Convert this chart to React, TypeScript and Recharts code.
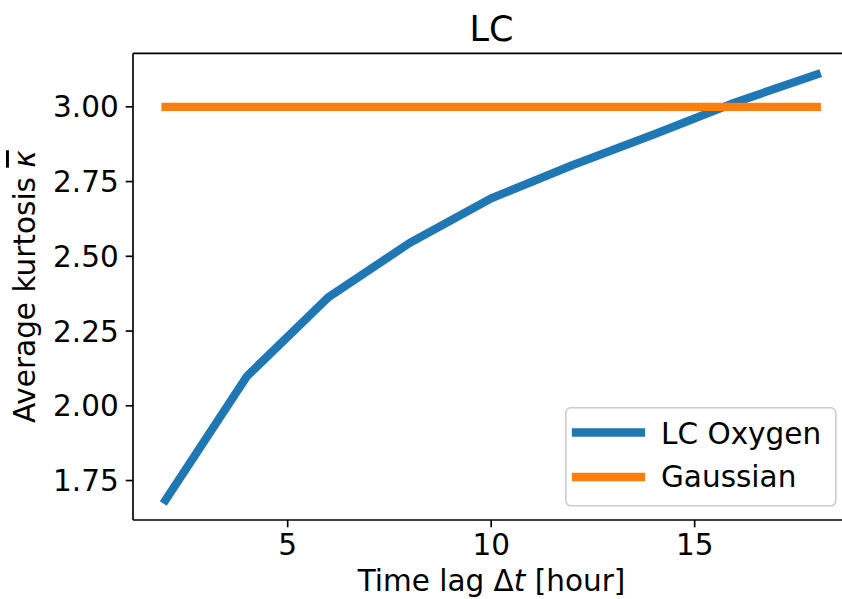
import React from 'react';
import { LineChart, Line, XAxis, YAxis, Legend } from 'recharts';

const lags = [2, 4, 6, 8, 10, 12, 14, 16, 18];
const lcOxygen = [1.685, 2.099, 2.363, 2.545, 2.694, 2.805, 2.908, 3.015, 3.108];
const gaussian = [3, 3, 3, 3, 3, 3, 3, 3, 3];
const xTicks = [5, 10, 15];
const yTicks = [1.75, 2.0, 2.25, 2.5, 2.75, 3.0];

const data = lags.map((lag, i) => ({ lag, lc: lcOxygen[i], gauss: gaussian[i] }));

const FONT = '"DejaVu Sans", sans-serif';
const FS = 29.5;
const BLUE = '#1f77b4';
const ORANGE = '#ff7f0e';
// figure is cropped on the right, so the x range stops short of the usual 18.8
const X_DOMAIN = [1.2, 18.62];

const renderLegend = () => (
  <svg width={272} height={100} style={{ display: 'block' }}>
    <rect x={0.8} y={0.8} width={270} height={98} rx={5} fill="rgba(255,255,255,0.8)" stroke="#cccccc" strokeWidth={1.6} />
    <line x1={11} x2={76} y1={25.5} y2={25.5} stroke={BLUE} strokeWidth={8.3} strokeLinecap="square" />
    <text x={96} y={37} fontFamily={FONT} fontSize={FS} fill="#000">LC Oxygen</text>
    <line x1={11} x2={76} y1={70} y2={70} stroke={ORANGE} strokeWidth={8.3} strokeLinecap="square" />
    <text x={96} y={80} fontFamily={FONT} fontSize={FS} fill="#000">Gaussian</text>
  </svg>
);

export default function App() {
  return (
    <div style={{ width: 842, height: 599, overflow: 'hidden', background: '#fff' }}>
      <style>{'body{margin:0}'}</style>
      <LineChart
        width={842}
        height={599}
        data={data}
        margin={{ top: 52.3, right: 0, bottom: 78, left: 132 }}
      >
        <XAxis
          dataKey="lag"
          type="number"
          domain={X_DOMAIN}
          ticks={xTicks}
          height={1}
          axisLine={{ stroke: '#000', strokeWidth: 1.67 }}
          tickLine={{ stroke: '#000', strokeWidth: 1.67 }}
          tickSize={7.3}
          tickMargin={7}
          tick={{ fill: '#000', fontSize: FS, fontFamily: FONT }}
          label={{
            content: () => (
              <text x={491.5} y={591} textAnchor="middle" fontFamily={FONT} fontSize={FS} fill="#000">
                Time lag Δ<tspan fontStyle="italic">t</tspan> [hour]
              </text>
            ),
          }}
        />
        <XAxis
          xAxisId="top"
          orientation="top"
          dataKey="lag"
          type="number"
          domain={X_DOMAIN}
          height={1}
          tick={false}
          tickLine={false}
          axisLine={{ stroke: '#000', strokeWidth: 1.67 }}
          label={{
            content: () => (
              <text x={491.5} y={41} textAnchor="middle" fontFamily={FONT} fontSize={35} fill="#000">
                LC
              </text>
            ),
          }}
        />
        <YAxis
          type="number"
          domain={[1.618, 3.179]}
          ticks={yTicks}
          width={1}
          allowDataOverflow
          axisLine={{ stroke: '#000', strokeWidth: 1.67 }}
          tickLine={{ stroke: '#000', strokeWidth: 1.67 }}
          tickSize={7.3}
          tickMargin={7}
          tickFormatter={(v: number) => v.toFixed(2)}
          tick={{ fill: '#000', fontSize: FS, fontFamily: FONT }}
          label={{
            content: () => {
              const cy = 286.7;
              return (
                <text x={35} y={cy} transform={`rotate(-90 35 ${cy})`} textAnchor="middle" fontFamily={FONT} fontSize={FS} fill="#000">
                  Average kurtosis <tspan fontStyle="italic" style={{ textDecoration: 'overline' }}>κ</tspan>
                </text>
              );
            },
          }}
        />
        <Legend
          layout="horizontal"
          verticalAlign="middle"
          align="center"
          content={renderLegend}
          wrapperStyle={{ left: 565, top: 406.5, width: 272, height: 100 }}
        />
        <Line
          dataKey="lc"
          name="LC Oxygen"
          stroke={BLUE}
          strokeWidth={8.3}
          strokeLinecap="square"
          strokeLinejoin="round"
          dot={false}
          activeDot={false}
          isAnimationActive={false}
        />
        <Line
          dataKey="gauss"
          name="Gaussian"
          stroke={ORANGE}
          strokeWidth={8.3}
          strokeLinecap="square"
          strokeLinejoin="round"
          dot={false}
          activeDot={false}
          isAnimationActive={false}
        />
      </LineChart>
    </div>
  );
}
